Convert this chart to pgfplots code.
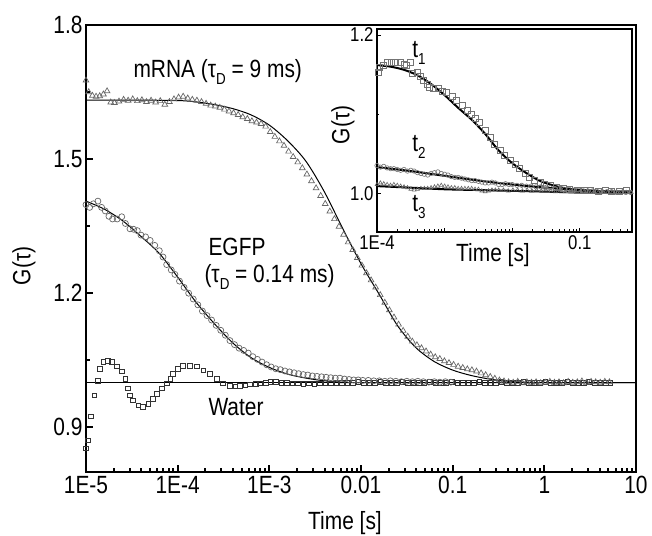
\documentclass[border=0pt]{standalone}
\usepackage{fontspec}
\setmainfont{Liberation Sans}[FakeStretch=0.84]
\usepackage{pgfplots}
\usepackage{pgfplotstable}
\pgfplotsset{compat=1.18}
\newcommand{\fsA}{\fontsize{25}{27}\selectfont}
\newcommand{\fsC}{\fontsize{20}{22}\selectfont}
\newcommand{\sub}[1]{\raisebox{-0.5ex}{\fontsize{16}{16}\selectfont #1}}

\pgfplotstableread{
lt G
-5.00 1.676
-4.97 1.650
-4.93 1.642
-4.89 1.640
-4.85 1.641
-4.81 1.645
-4.77 1.652
-4.73 1.627
-4.69 1.626
-4.64 1.629
-4.59 1.633
-4.54 1.631
-4.49 1.634
-4.44 1.630
-4.39 1.632
-4.34 1.628
-4.29 1.631
-4.24 1.627
-4.19 1.630
-4.14 1.622
-4.09 1.628
-4.04 1.634
-3.99 1.638
-3.94 1.640
-3.89 1.636
-3.84 1.633
-3.79 1.631
-3.74 1.628
-3.69 1.624
-3.64 1.620
-3.59 1.618
-3.54 1.615
-3.49 1.611
-3.44 1.607
-3.39 1.603
-3.34 1.599
-3.29 1.594
-3.24 1.590
-3.19 1.585
-3.14 1.582
-3.09 1.579
-3.04 1.573
-2.99 1.561
-2.94 1.550
-2.89 1.540
-2.84 1.530
-2.79 1.517
-2.74 1.505
-2.69 1.493
-2.64 1.480
-2.59 1.466
-2.54 1.451
-2.49 1.435
-2.44 1.418
-2.39 1.400
-2.34 1.383
-2.29 1.366
-2.24 1.349
-2.19 1.331
-2.14 1.314
-2.09 1.297
-2.04 1.279
-1.99 1.262
-1.94 1.245
-1.89 1.229
-1.84 1.213
-1.79 1.196
-1.74 1.179
-1.69 1.162
-1.64 1.146
-1.59 1.130
-1.54 1.116
-1.49 1.103
-1.44 1.092
-1.39 1.084
-1.34 1.077
-1.29 1.070
-1.24 1.063
-1.19 1.057
-1.14 1.053
-1.09 1.048
-1.04 1.044
-0.99 1.040
-0.94 1.036
-0.89 1.033
-0.84 1.030
-0.79 1.028
-0.74 1.025
-0.69 1.021
-0.64 1.017
-0.59 1.013
-0.54 1.009
-0.49 1.005
-0.44 1.003
-0.39 1.001
-0.34 1.000
-0.29 1.002
-0.24 0.999
-0.19 1.001
-0.14 1.000
-0.09 1.001
-0.04 0.999
0.01 1.000
0.06 1.002
0.11 1.000
0.16 1.001
0.21 0.999
0.26 1.002
0.31 1.000
0.36 1.001
0.41 1.003
0.46 1.000
0.51 1.002
0.56 1.001
0.61 1.000
0.66 1.002
0.71 1.001
}\mrna

\pgfplotstableread{
lt G
-5.0 1.632
-4.5 1.632
-4.0 1.631
-3.8 1.628
-3.6 1.622
-3.4 1.613
-3.2 1.599
-3.0 1.576
-2.8 1.541
-2.6 1.495
-2.4 1.427
-2.2 1.345
-2.0 1.266
-1.8 1.197
-1.6 1.127
-1.4 1.078
-1.2 1.047
-1.0 1.028
-0.8 1.016
-0.6 1.008
-0.4 1.003
-0.2 1.001
0.0 1.000
1.0 1.000
}\mrnafit

\pgfplotstableread{
lt G
-5.00 1.398
-4.96 1.392
-4.92 1.400
-4.87 1.406
-4.83 1.392
-4.79 1.384
-4.75 1.372
-4.71 1.366
-4.66 1.366
-4.61 1.371
-4.57 1.356
-4.52 1.344
-4.48 1.343
-4.44 1.340
-4.40 1.330
-4.35 1.326
-4.30 1.318
-4.25 1.307
-4.20 1.295
-4.16 1.281
-4.12 1.264
-4.07 1.252
-4.03 1.242
-3.98 1.227
-3.93 1.213
-3.88 1.200
-3.83 1.187
-3.78 1.174
-3.73 1.160
-3.68 1.150
-3.63 1.140
-3.58 1.128
-3.53 1.117
-3.48 1.106
-3.43 1.094
-3.38 1.085
-3.33 1.077
-3.28 1.072
-3.23 1.066
-3.18 1.058
-3.13 1.052
-3.08 1.046
-3.03 1.040
-2.98 1.035
-2.93 1.031
-2.88 1.029
-2.83 1.026
-2.78 1.024
-2.73 1.022
-2.68 1.020
-2.63 1.018
-2.58 1.017
-2.53 1.015
-2.48 1.014
-2.43 1.013
-2.38 1.012
-2.33 1.011
-2.28 1.010
-2.23 1.010
-2.18 1.008
-2.13 1.007
-2.08 1.006
-2.03 1.006
-1.98 1.005
-1.92 1.005
-1.86 1.004
-1.80 1.004
-1.74 1.003
-1.68 1.004
-1.62 1.003
-1.56 1.002
-1.50 1.003
-1.44 1.002
-1.38 1.003
-1.32 1.002
-1.26 1.001
-1.20 1.002
-1.14 1.001
-1.08 1.002
-1.02 1.001
}\egfp

\pgfplotstableread{
lt G
-5.0 1.406
-4.8 1.388
-4.6 1.362
-4.4 1.327
-4.2 1.289
-4.0 1.236
-3.8 1.180
-3.6 1.132
-3.4 1.089
-3.2 1.056
-3.0 1.034
-2.8 1.019
-2.6 1.010
-2.4 1.004
-2.2 1.001
-2.0 1.000
1.0 1.000
}\egfpfit

\pgfplotstableread{
lt G
-5.00 0.853
-4.98 0.871
-4.95 0.924
-4.91 0.971
-4.87 1.004
-4.85 1.031
-4.81 1.047
-4.76 1.049
-4.72 1.047
-4.66 1.036
-4.61 1.025
-4.57 1.009
-4.54 0.987
-4.52 0.971
-4.49 0.960
-4.43 0.949
-4.38 0.946
-4.32 0.953
-4.27 0.964
-4.23 0.975
-4.17 0.987
-4.12 0.998
-4.08 1.009
-4.05 1.020
-4.00 1.031
-3.94 1.038
-3.87 1.038
-3.79 1.036
-3.72 1.027
-3.65 1.020
-3.57 1.009
-3.51 0.998
-3.43 0.993
-3.37 0.992
-3.32 0.993
-3.26 0.994
-3.21 0.996
-3.15 0.997
-3.10 0.998
-3.04 1.000
-2.99 1.001
-2.93 1.001
-2.87 1.000
-2.81 0.999
-2.75 0.998
-2.69 0.998
-2.63 0.997
-2.57 0.998
-2.51 0.997
-2.45 0.998
-2.39 0.999
-2.33 0.998
-2.27 0.999
-2.21 1.000
-2.15 0.999
-2.09 1.000
-2.03 1.001
-1.97 1.000
-1.91 0.999
-1.85 1.000
-1.79 1.001
-1.73 1.000
-1.67 0.999
-1.61 1.000
-1.55 1.001
-1.49 1.000
-1.43 1.000
-1.37 0.999
-1.31 1.000
-1.25 1.001
-1.19 1.000
-1.13 0.999
-1.07 1.000
-1.01 1.001
-0.95 1.000
-0.89 0.999
-0.83 1.000
-0.77 1.000
-0.71 1.001
-0.65 1.000
-0.59 0.999
-0.53 1.000
-0.47 1.001
-0.41 1.000
-0.35 0.999
-0.29 1.000
-0.23 1.001
-0.17 1.000
-0.11 0.999
-0.05 1.000
0.01 1.001
0.07 1.000
0.13 0.999
0.19 1.000
0.25 1.001
0.31 1.000
0.37 0.999
0.43 1.000
0.49 1.001
0.55 1.000
0.61 0.999
0.67 1.000
0.72 1.000
}\water

\pgfplotstableread{
lt G
-3.985 1.153
-3.96 1.159
-3.90 1.162
-3.85 1.165
-3.79 1.166
-3.73 1.165
-3.66 1.165
-3.60 1.163
-3.56 1.162
-3.51 1.166
-3.47 1.152
-3.41 1.153
-3.36 1.148
-3.32 1.143
-3.26 1.138
-3.22 1.134
-3.16 1.133
-3.10 1.132
-3.04 1.129
-2.97 1.127
-2.89 1.122
-2.82 1.118
-2.74 1.111
-2.67 1.105
-2.61 1.100
-2.55 1.095
-2.48 1.089
-2.40 1.080
-2.33 1.071
-2.26 1.062
-2.18 1.054
-2.11 1.048
-2.03 1.042
-1.96 1.037
-1.89 1.032
-1.81 1.025
-1.74 1.020
-1.67 1.016
-1.59 1.014
-1.52 1.011
-1.44 1.010
-1.35 1.008
-1.25 1.006
-1.15 1.005
-1.04 1.004
-0.94 1.004
-0.84 1.004
-0.73 1.003
-0.63 1.004
-0.53 1.003
-0.42 1.003
-0.32 1.004
}\tone

\pgfplotstableread{
lt G
-4.0 1.162
-3.8 1.160
-3.6 1.156
-3.4 1.149
-3.2 1.138
-3.0 1.124
-2.8 1.108
-2.6 1.093
-2.4 1.075
-2.2 1.054
-2.0 1.038
-1.8 1.026
-1.6 1.016
-1.4 1.010
-1.2 1.006
-1.0 1.004
-0.8 1.003
-0.5 1.002
-0.2 1.002
}\tonefit

\pgfplotstableread{
lt G
-4.00 1.035
-3.95 1.033
-3.90 1.034
-3.85 1.032
-3.80 1.031
-3.75 1.031
-3.70 1.030
-3.65 1.029
-3.60 1.030
-3.55 1.028
-3.50 1.029
-3.45 1.028
-3.40 1.026
-3.35 1.025
-3.30 1.024
-3.25 1.023
-3.20 1.025
-3.15 1.026
-3.10 1.027
-3.05 1.025
-3.00 1.024
-2.95 1.023
-2.90 1.021
-2.85 1.020
-2.80 1.020
-2.75 1.019
-2.70 1.018
-2.65 1.017
-2.60 1.016
-2.55 1.016
-2.50 1.015
-2.45 1.014
-2.40 1.013
-2.35 1.013
-2.30 1.014
-2.25 1.013
-2.20 1.011
-2.15 1.011
-2.10 1.012
-2.05 1.011
-2.00 1.011
-1.93 1.010
-1.86 1.010
-1.79 1.009
-1.72 1.009
-1.65 1.008
-1.58 1.008
-1.51 1.007
-1.44 1.007
-1.37 1.006
-1.30 1.006
-1.23 1.005
-1.16 1.005
-1.09 1.004
-1.02 1.004
-0.95 1.003
-0.88 1.003
-0.81 1.003
-0.74 1.002
-0.67 1.002
-0.60 1.002
-0.53 1.002
-0.46 1.001
-0.39 1.001
-0.32 1.001
-0.25 1.001
}\ttwo

\pgfplotstableread{
lt G
-4.0 1.033
-3.5 1.028
-3.0 1.022
-2.5 1.016
-2.0 1.011
-1.5 1.007
-1.0 1.004
-0.5 1.002
-0.2 1.002
}\ttwofit

\pgfplotstableread{
lt G
-4.00 1.011
-3.95 1.013
-3.90 1.012
-3.85 1.011
-3.80 1.010
-3.75 1.011
-3.70 1.010
-3.65 1.009
-3.60 1.008
-3.55 1.007
-3.50 1.005
-3.45 1.004
-3.40 1.005
-3.35 1.006
-3.30 1.006
-3.25 1.006
-3.20 1.007
-3.15 1.008
-3.10 1.009
-3.05 1.010
-3.00 1.009
-2.95 1.008
-2.90 1.007
-2.85 1.007
-2.80 1.006
-2.75 1.006
-2.70 1.006
-2.65 1.006
-2.60 1.006
-2.55 1.005
-2.50 1.005
-2.45 1.003
-2.40 1.002
-2.35 1.003
-2.30 1.004
-2.25 1.004
-2.20 1.004
-2.13 1.004
-2.06 1.003
-1.99 1.004
-1.92 1.004
-1.85 1.003
-1.78 1.004
-1.71 1.003
-1.64 1.004
-1.57 1.003
-1.50 1.004
-1.43 1.003
-1.36 1.002
-1.29 1.003
-1.22 1.002
-1.15 1.002
-1.08 1.002
-1.01 1.001
-0.94 1.002
-0.87 1.001
-0.80 1.001
-0.73 1.001
-0.66 1.001
-0.59 1.001
-0.52 1.001
-0.45 1.001
-0.38 1.001
-0.31 1.001
-0.24 1.001
}\tthree

\pgfplotstableread{
lt G
-4.0 1.009
-3.5 1.007
-3.0 1.005
-2.5 1.004
-2.0 1.003
-1.5 1.002
-1.0 1.001
-0.2 1.001
}\tthreefit

\begin{document}
\begin{tikzpicture}
\begin{axis}[
  at={(0,0)}, anchor=south west,
  scale only axis, width=550bp, height=447bp,
  xmode=log, xmin=1e-5, xmax=10, ymin=0.8, ymax=1.8,
  axis line style={line width=2.6bp},
  xtick={1e-5,1e-4,1e-3,1e-2,1e-1,1,10},
  xticklabels={1E-5,1E-4,1E-3,0.01,0.1,1,10},
  minor xtick={2e-5,3e-5,4e-5,5e-5,6e-5,7e-5,8e-5,9e-5,
    2e-4,3e-4,4e-4,5e-4,6e-4,7e-4,8e-4,9e-4,
    2e-3,3e-3,4e-3,5e-3,6e-3,7e-3,8e-3,9e-3,
    0.02,0.03,0.04,0.05,0.06,0.07,0.08,0.09,
    0.2,0.3,0.4,0.5,0.6,0.7,0.8,0.9,
    2,3,4,5,6,7,8,9},
  ytick={0.9,1.2,1.5,1.8}, yticklabels={0.9,1.2,1.5,1.8},
  minor ytick={1.05,1.35,1.65},
  tick align=inside, xtick pos=bottom, ytick pos=left,
  major tick length=7bp, minor tick length=4bp,
  every tick/.style={black, line width=2bp},
  tick label style={font=\fsA},
  xticklabel style={yshift=-1bp},
]
\addplot[black, line width=0.8bp] coordinates {(1e-5,1) (10,1)};
\addplot[only marks, mark=square, mark size=2.3bp, mark options={draw=black!80, line width=0.75bp, fill=none}]
  table[x expr={10^(\thisrow{lt})}, y=G] {\water};
\addplot[only marks, mark=o, mark size=3bp, mark options={draw=black!60, line width=0.7bp, fill=none}]
  table[x expr={10^(\thisrow{lt})}, y=G] {\egfp};
\addplot[only marks, mark=triangle, mark size=3.3bp, mark options={draw=black!60, line width=0.7bp, fill=none}]
  table[x expr={10^(\thisrow{lt})}, y=G] {\mrna};
\addplot[black, line width=1bp, smooth] table[x expr={10^(\thisrow{lt})}, y=G] {\mrnafit};
\addplot[black, line width=1bp, smooth] table[x expr={10^(\thisrow{lt})}, y=G] {\egfpfit};
\end{axis}

\begin{axis}[
  at={(291bp,240bp)}, anchor=south west,
  scale only axis, width=255bp, height=203bp,
  xmode=log, xmin=1e-4, xmax=0.59, ymin=0.951, ymax=1.2076,
  axis background/.style={fill=white},
  axis line style={line width=1.3bp},
  xtick={1e-4,1e-3,1e-2,0.1}, xticklabels={1E-4,,,0.1},
  minor xtick={2e-4,3e-4,4e-4,5e-4,6e-4,7e-4,8e-4,9e-4,
    2e-3,3e-3,4e-3,5e-3,6e-3,7e-3,8e-3,9e-3,
    0.02,0.03,0.04,0.05,0.06,0.07,0.08,0.09,0.2,0.3,0.4,0.5},
  ytick={1.0,1.2}, yticklabels={1.0,1.2}, minor ytick={1.1},
  tick align=inside, xtick pos=bottom, ytick pos=left,
  major tick length=4bp, minor tick length=2.5bp,
  every tick/.style={black, line width=1bp},
  tick label style={font=\fsC},
]
\addplot[only marks, mark=triangle, mark size=2.2bp, mark options={draw=black!60, line width=0.6bp, fill=none}]
  table[x expr={10^(\thisrow{lt})}, y=G] {\tthree};
\addplot[only marks, mark=o, mark size=2.2bp, mark options={draw=black!55, line width=0.6bp, fill=none}]
  table[x expr={10^(\thisrow{lt})}, y=G] {\ttwo};
\addplot[only marks, mark=square, mark size=3bp, mark options={draw=black!55, line width=0.7bp, fill=none}]
  table[x expr={10^(\thisrow{lt})}, y=G] {\tone};
\addplot[black, line width=2bp, smooth] table[x expr={10^(\thisrow{lt})}, y=G] {\tonefit};
\addplot[black, line width=2bp, smooth] table[x expr={10^(\thisrow{lt})}, y=G] {\ttwofit};
\addplot[black, line width=2bp, smooth] table[x expr={10^(\thisrow{lt})}, y=G] {\tthreefit};
\end{axis}

\node[font=\fsA, rotate=90] at (-62bp,206bp) {G(τ)};
\node[font=\fsA] at (259bp,-51bp) {Time [s]};
\node[font=\fsA, anchor=west] at (44bp,400bp) {mRNA (τ\sub{D} = 9 ms)};
\node[font=\fsA, anchor=west] at (119bp,225bp) {EGFP};
\node[font=\fsA, anchor=west] at (115bp,195bp) {(τ\sub{D} = 0.14 ms)};
\node[font=\fsA, anchor=west] at (119bp,65bp) {Water};
\node[font=\fsA, rotate=90] at (257bp,347bp) {G(τ)};
\node[font=\fsA] at (407bp,217bp) {Time [s]};
\node[font=\fsA] at (333bp,419bp) {t\sub{1}};
\node[font=\fsA] at (333bp,325bp) {t\sub{2}};
\node[font=\fsA] at (333bp,265bp) {t\sub{3}};

\pgfresetboundingbox
\useasboundingbox (-86bp,-64bp) rectangle (566bp,472bp);
\end{tikzpicture}
\end{document}
